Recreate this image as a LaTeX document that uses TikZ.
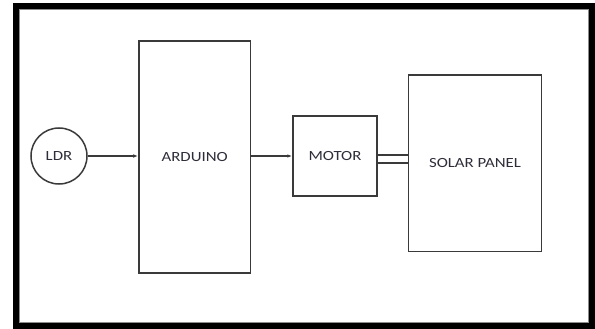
\documentclass[tikz,border=0pt]{standalone}
\usepackage{fontspec}
\setmainfont{Carlito}
\usepackage{tikz}
\usetikzlibrary{positioning,arrows.meta,calc}
\definecolor{edge}{HTML}{3A3A3A}
\definecolor{txt}{HTML}{2E2E3A}

\begin{document}
\begin{tikzpicture}[x=1pt,y=-1pt,
  blk/.style={draw=edge,line width=1.5pt,inner sep=0pt},
  lbl/.style={text=txt,font=\fontsize{14}{16}\selectfont},
  wire/.style={edge,line width=1.3pt},
  sig/.style={wire,-{Latex[length=5pt,width=3.5pt]}}]
  \useasboundingbox (0,0) rectangle (595,329);
  % frame
  \draw[black,line width=6.5pt] (16.2,6.2) rectangle (592,326);
  \draw[black!45,line width=0.8pt] (19.8,9.8) rectangle (588.6,322.6);
  % blocks
  \node[blk,circle,minimum size=56pt,lbl] (ldr) at (59,156) {\scalebox{1.2}[1]{LDR}};
  \node[blk,minimum width=111.5pt,minimum height=231.7pt,lbl] (arduino) at (194.7,156.9) {\scalebox{1.2}[1]{ARDUINO}};
  \node[blk,minimum width=84pt,minimum height=80pt,lbl] (motor) at (335,156) {\scalebox{1.2}[1]{MOTOR}};
  \node[blk,minimum width=133pt,minimum height=176.7pt,lbl] (panel) at (475,163.3) {\scalebox{1.2}[1]{SOLAR PANEL}};
  % links
  \draw[sig] (ldr.east) -- (ldr.east -| arduino.west);
  \draw[sig] (arduino.east |- motor.west) -- (motor.west);
  \draw[wire] (motor.east |- 0,155) -- (panel.west |- 0,155);
  \draw[wire] (motor.east |- 0,163) -- (panel.west |- 0,163);
\end{tikzpicture}
\end{document}
